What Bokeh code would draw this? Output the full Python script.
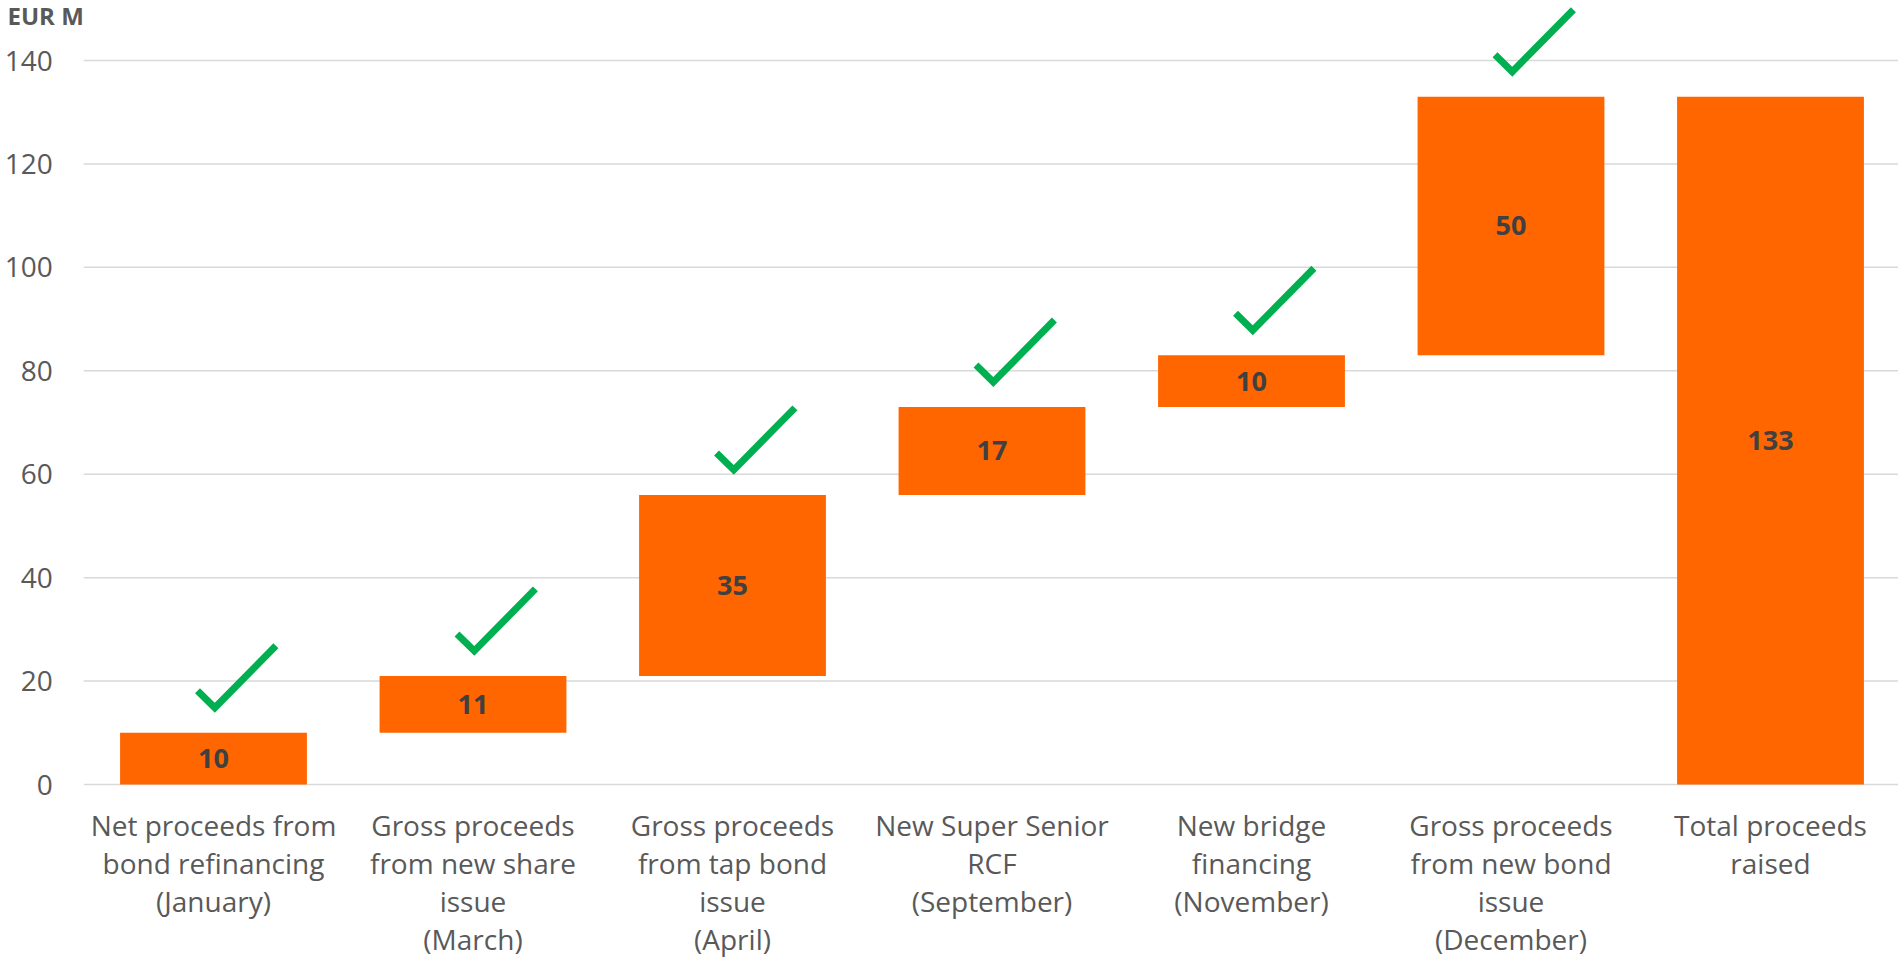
from bokeh.plotting import figure
from bokeh.models import Range1d, ColumnDataSource
from bokeh.embed import file_html
from bokeh.resources import INLINE
from bokeh.core.properties import value

# ---- data ----
categories = [
    "Net proceeds from\nbond refinancing\n(January)",
    "Gross proceeds\nfrom new share\nissue\n(March)",
    "Gross proceeds\nfrom tap bond\nissue\n(April)",
    "New Super Senior\nRCF\n(September)",
    "New bridge\nfinancing\n(November)",
    "Gross proceeds\nfrom new bond\nissue\n(December)",
    "Total proceeds\nraised",
]
step_values = [10, 11, 35, 17, 10, 50]
total_value = 133
y_ticks = [0, 20, 40, 60, 80, 100, 120, 140]
unit_label = "EUR M"

# ---- derived waterfall geometry ----
n = len(categories)
idx = list(range(n))
bottoms, tops = [], []
run = 0
for v in step_values:
    bottoms.append(run)
    run += v
    tops.append(run)
bottoms.append(0)
tops.append(total_value)
labels = [str(v) for v in step_values] + [str(total_value)]
mids = [(b + t) / 2 for b, t in zip(bottoms, tops)]

# ---- style / layout ----
ORANGE = "#FF6600"
GREEN = "#00B050"
GRID = "#D9D9D9"
TXT = "#595959"
FONT = "Open Sans"

W, H = 1898, 959
px_x = 259.5            # pixels per category
px_y = 724 / 140.0      # pixels per EUR M
first_center_px = 213   # canvas x of first category centre
zero_px = 784           # canvas y of value 0

x_start = -first_center_px / px_x
x_end = x_start + W / px_x
y_end = zero_px / px_y
y_start = -(H - zero_px) / px_y

p = figure(width=W, height=H, output_backend="svg", toolbar_location=None,
           x_range=Range1d(x_start, x_end), y_range=Range1d(y_start, y_end),
           x_axis_type=None, y_axis_type=None,
           min_border=0, min_border_left=0, min_border_right=0,
           min_border_top=0, min_border_bottom=0)
p.outline_line_color = None
p.background_fill_color = "white"
p.border_fill_color = "white"
p.xgrid.visible = False
p.ygrid.visible = False

# horizontal gridlines (value axis)
p.segment(x0=[-0.5] * len(y_ticks), x1=[x_end] * len(y_ticks),
          y0=y_ticks, y1=y_ticks, line_color=GRID, line_width=1.5)

# value-axis tick labels
p.text(x=[-0.5 - 31 / px_x] * len(y_ticks), y=y_ticks,
       text=[str(t) for t in y_ticks], text_align="right", text_baseline="middle",
       text_font=value(FONT), text_font_size="28px", text_color=TXT)

# unit label
p.text(x=[x_start + 7 / px_x], y=[y_end - 15 / px_y], text=[unit_label],
       text_align="left", text_baseline="middle", text_font=value(FONT),
       text_font_style="bold", text_font_size="24px", text_color=TXT)

# bars
src = ColumnDataSource(dict(x=idx, bottom=bottoms, top=tops, mid=mids,
                            label=labels, cat=categories))
p.vbar(x="x", bottom="bottom", top="top", width=0.72, source=src,
       fill_color=ORANGE, line_color=None)
p.text(x="x", y="mid", text="label", source=src, text_align="center",
       text_baseline="middle", text_font=value(FONT), text_font_style="bold",
       text_font_size="27px", text_color="#404040")

# category labels
p.text(x="x", y=-21 / px_y, text="cat", source=src, text_align="center",
       text_baseline="top", text_font=value(FONT), text_font_size="28px",
       text_color=TXT, text_line_height=1.0)

# checkmarks above each step bar
ck_dx = [-16 / px_x, 1.3 / px_x, 62.4 / px_x]
ck_dy = [42 / px_y, 25 / px_y, 87 / px_y]
xs = [[i + d for d in ck_dx] for i in idx[:-1]]
ys = [[tops[i] + d for d in ck_dy] for i in idx[:-1]]
p.multi_line(xs=xs, ys=ys, line_color=GREEN, line_width=7,
             line_join="miter", line_cap="butt")

open("out.html", "w").write(file_html(p, INLINE))
